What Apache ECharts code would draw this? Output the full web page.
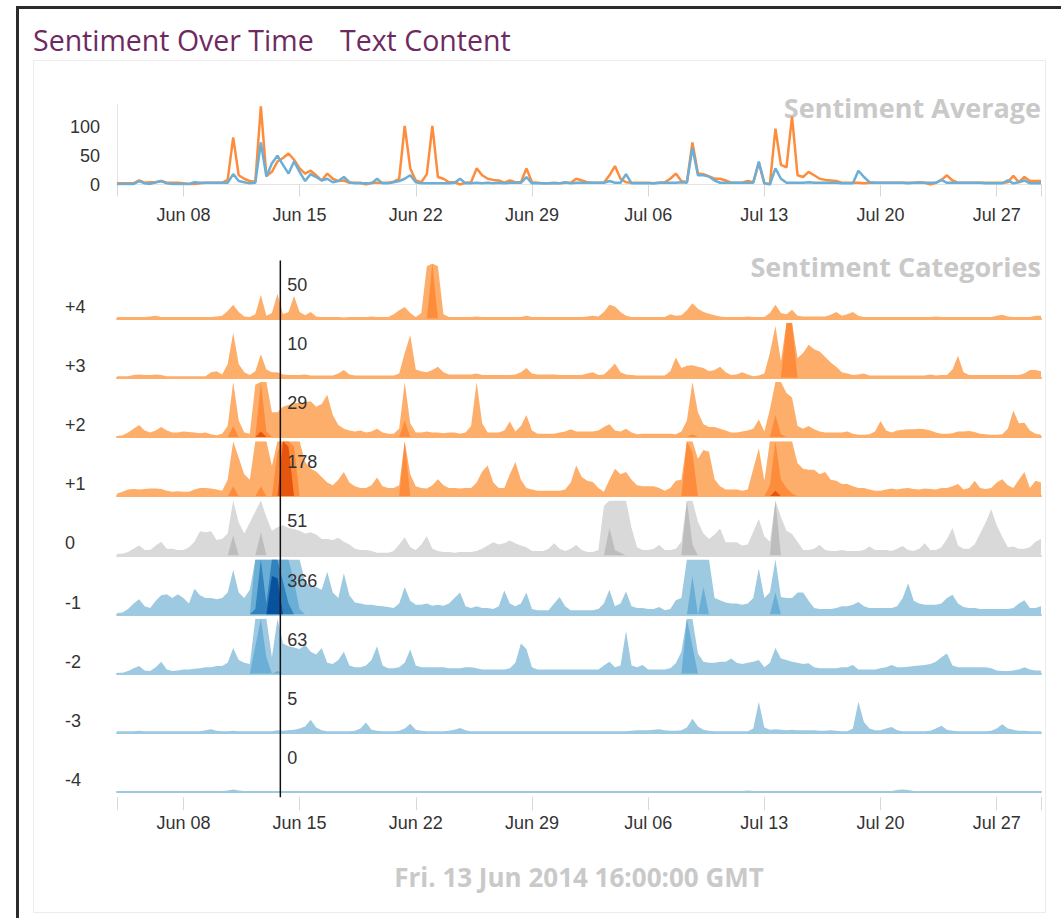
<!DOCTYPE html>
<html lang="en">
<head>
<meta charset="utf-8">
<title>Sentiment Over Time</title>
<script src="https://cdn.jsdelivr.net/npm/echarts@6.0.0/dist/echarts.min.js"></script>
<style>
    html, body { margin: 0; padding: 0; background: #fff; }
    #frame { position: absolute; left: 16px; top: 6px; width: 1045px; height: 912px;
             border-left: 3px solid #2b2b2b; border-top: 3px solid #2b2b2b; box-sizing: border-box; }
    #panel { position: absolute; left: 33px; top: 60px; width: 1013px; height: 853px;
             border: 1px solid #ececec; box-sizing: border-box; }
    #chart { position: absolute; left: 0; top: 0; width: 1061px; height: 918px; }
</style>
</head>
<body>
<div id="frame"></div>
<div id="panel"></div>
<div id="chart"></div>
<script type="text/javascript">
    // samples every 8 hours, starting Jun 04 00:00 (day 3 counted from Jun 01)
    var startDay = 3;
    var stepDays = 1 / 3;

    var weekDays   = [7, 14, 21, 28, 35, 42, 49, 56];
    var weekLabels = ['Jun 08', 'Jun 15', 'Jun 22', 'Jun 29', 'Jul 06', 'Jul 13', 'Jul 20', 'Jul 27'];

    var rowLabels = ['+4', '+3', '+2', '+1', '0', '-1', '-2', '-3', '-4'];
    var cursorDay = 12.84;
    var cursorValues = [50, 10, 29, 178, 51, 366, 63, 5, 0];
    var cursorText = 'Fri. 13 Jun 2014 16:00:00 GMT';

    // Sentiment Average (top chart)
    var avgPositive = [
        2,2,2,2,7,3,4,4,6,3,3,3,
        2,1,1,2,3,3,3,3,8,82,16,10,
        6,5,136,15,22,40,46,54,43,28,19,24,
        16,7,19,10,6,7,3,3,3,0,3,3,
        3,3,5,10,102,28,7,4,18,102,13,10,
        4,4,0,3,4,28,16,10,8,7,3,7,
        4,4,28,4,3,2,2,3,2,3,3,10,
        7,4,3,3,3,16,32,10,4,3,3,3,
        3,2,3,4,10,19,6,4,73,19,18,14,
        10,10,7,3,3,3,6,4,37,2,1,97,
        34,30,118,16,13,22,16,10,8,7,6,3,
        3,3,3,2,3,3,3,3,3,3,3,3,
        3,4,3,0,3,8,16,7,3,3,3,3,
        3,3,3,3,3,4,15,4,13,6,6,6
    ];
    var avgNegative = [
        1,1,1,1,6,2,1,4,6,2,1,1,
        1,1,4,3,3,3,3,3,3,18,6,4,
        2,3,73,14,37,50,34,19,40,22,6,18,
        13,7,10,4,6,13,4,2,2,2,2,10,
        2,2,4,6,10,16,4,2,2,2,2,2,
        2,3,10,2,2,3,2,3,2,3,2,3,
        3,3,13,2,2,2,2,2,2,4,2,3,
        3,3,3,3,3,6,3,3,18,2,2,2,
        2,2,3,3,3,3,4,3,64,16,16,14,
        7,3,3,3,3,3,3,3,40,2,0,28,
        10,3,3,3,3,4,3,3,3,3,3,2,
        2,2,24,13,4,3,3,3,3,3,3,2,
        3,3,3,3,3,8,3,3,3,3,3,3,
        3,2,2,2,2,7,2,4,7,2,2,2
    ];

    // Sentiment Categories (horizon rows, 100 = one band)
    var catPlus4 = [
        3,3,3,3,3,3,4,5,3,3,3,3,
        3,3,3,3,3,3,4,5,14,25,12,4,
        3,8,43,5,10,45,8,12,41,12,6,12,
        4,3,3,3,3,2,3,3,3,3,4,3,
        3,3,8,15,21,10,3,10,95,200,95,8,
        3,3,3,3,3,4,3,3,3,3,3,3,
        3,3,5,3,3,3,3,3,3,3,3,3,
        3,4,5,4,12,25,22,12,5,3,3,3,
        3,3,3,3,8,5,6,15,28,18,12,9,
        6,4,3,3,3,3,4,3,3,3,10,25,
        10,8,16,5,4,4,4,4,4,7,12,5,
        8,12,5,3,3,3,3,3,3,3,3,3,
        3,3,3,3,4,3,3,3,3,3,3,3,
        3,3,3,5,7,4,3,3,3,3,5,5
    ];
    var catPlus3 = [
        3,3,3,5,6,5,5,6,5,3,3,3,
        3,3,3,3,3,10,12,6,25,82,25,10,
        5,12,43,15,10,10,6,5,5,5,6,4,
        4,4,4,4,8,14,6,4,4,4,4,4,
        4,4,4,8,45,78,15,12,10,14,20,10,
        6,6,6,6,6,8,5,5,5,5,5,5,
        6,10,18,8,6,6,6,6,5,5,5,5,
        5,8,10,5,6,15,26,10,6,5,4,4,
        4,4,4,4,12,37,18,22,23,20,18,12,
        14,20,10,5,6,10,6,3,4,8,45,94,
        30,200,200,36,45,60,52,48,38,28,20,10,
        8,5,6,8,4,4,4,4,4,4,4,4,
        4,4,4,6,4,5,5,15,40,10,5,5,
        5,5,5,5,5,5,5,5,8,14,14,12
    ];
    var catPlus2 = [
        2,3,8,15,22,12,8,12,18,12,8,8,
        10,9,8,7,8,5,3,6,20,120,30,8,
        6,95,210,110,45,45,55,58,62,62,63,65,
        55,60,77,40,22,15,12,10,12,8,10,15,
        8,6,6,15,130,25,8,8,10,8,8,7,
        8,8,6,8,20,100,25,8,8,8,12,28,
        10,20,40,12,6,6,6,6,8,10,14,10,
        10,10,10,12,18,23,12,10,15,8,5,6,
        6,6,6,6,6,5,10,30,105,45,23,18,
        18,15,12,8,8,10,12,15,32,10,50,140,
        105,80,72,20,15,20,14,10,8,8,8,8,
        10,6,4,4,5,10,29,12,8,12,13,14,
        14,15,14,12,8,6,6,7,10,10,11,9,
        6,5,4,4,5,15,48,25,26,12,6,4
    ];
    var catPlus1 = [
        5,8,12,13,12,13,14,14,13,10,8,9,
        8,8,12,15,15,14,12,10,30,118,70,40,
        30,100,118,100,55,180,300,290,190,100,62,50,
        45,35,25,20,30,44,25,18,15,15,20,34,
        18,15,15,20,200,40,18,15,14,20,31,20,
        15,15,14,15,15,25,45,56,25,15,15,40,
        62,30,15,12,10,10,10,10,10,12,25,56,
        35,28,26,15,8,30,50,40,44,30,20,18,
        18,18,15,10,15,28,30,200,180,68,84,81,
        31,18,12,12,12,10,12,50,87,28,120,210,
        130,115,105,60,50,48,48,40,44,30,28,22,
        22,18,15,15,12,10,10,12,14,12,14,15,
        13,12,14,13,12,15,15,18,22,12,15,28,
        15,13,15,25,31,20,15,30,44,15,28,25
    ];
    var catZero = [
        3,3,6,12,18,10,10,18,25,12,12,10,
        10,15,25,44,42,44,28,30,40,136,60,40,
        60,80,142,70,45,51,55,50,48,45,40,42,
        38,30,30,28,32,25,20,12,10,10,8,5,
        5,5,8,20,33,15,10,20,35,12,8,6,
        6,5,6,6,6,8,12,18,24,20,22,27,
        22,18,15,8,8,8,12,22,12,8,12,19,
        10,6,6,10,90,150,110,105,100,50,15,10,
        10,12,19,10,10,12,25,200,120,61,40,30,
        38,49,24,24,24,18,20,43,66,35,25,200,
        70,45,39,25,10,10,12,19,10,8,8,10,
        8,8,8,10,16,10,10,10,8,12,17,10,
        8,12,22,10,10,15,30,50,18,12,12,20,
        40,60,84,55,34,15,16,12,12,15,25,30
    ];
    var catMinus1 = [
        3,4,10,20,28,15,12,25,35,37,30,37,
        30,20,47,35,30,30,28,30,40,81,40,30,
        45,210,300,220,370,366,260,220,160,110,60,50,
        50,45,78,40,30,75,35,22,20,18,18,16,
        15,14,12,20,50,25,18,18,20,16,18,16,
        20,30,40,15,12,15,12,12,10,15,44,20,
        15,20,40,10,8,8,8,20,32,15,8,8,
        8,8,8,10,20,45,15,20,42,15,12,12,
        10,10,14,8,10,26,30,100,170,100,150,100,
        30,26,22,20,20,18,20,30,84,30,40,140,
        32,30,30,40,40,25,12,10,10,10,12,15,
        15,18,23,15,12,12,12,12,12,15,30,57,
        25,20,18,18,18,20,30,36,20,14,12,12,
        10,10,10,10,10,10,12,20,26,12,12,15
    ];
    var catMinus2 = [
        2,2,5,10,14,6,5,12,22,8,5,6,
        8,8,9,10,12,12,14,14,20,47,25,20,
        18,150,200,130,30,105,55,50,48,45,53,40,
        35,47,20,18,25,40,15,12,12,15,25,50,
        15,10,10,12,20,44,15,12,12,12,12,12,
        10,10,10,12,12,10,8,8,8,8,8,10,
        20,55,45,12,8,8,8,8,8,8,8,8,
        8,8,8,8,15,22,12,15,78,15,12,16,
        8,8,8,8,10,19,40,200,150,37,22,20,
        20,22,22,28,20,18,20,22,25,12,20,47,
        28,25,22,20,18,19,12,10,10,10,10,12,
        12,16,8,8,8,8,10,12,16,12,12,13,
        14,15,16,18,22,30,37,15,12,12,12,12,
        12,12,10,6,5,5,6,8,12,8,6,6
    ];
    var catMinus3 = [
        3,3,3,3,4,3,3,3,3,3,3,3,
        3,3,3,3,5,7,4,3,3,4,3,3,
        3,3,3,3,3,5,4,5,6,8,12,24,
        10,5,3,3,3,3,3,4,8,19,6,4,
        3,3,3,4,8,17,6,4,3,3,3,3,
        4,6,9,5,3,3,3,3,3,3,3,3,
        3,3,3,3,3,3,3,3,3,3,3,3,
        3,3,3,3,3,3,3,3,3,4,5,5,
        5,6,7,5,4,4,5,10,26,12,6,4,
        3,3,3,3,3,3,3,8,57,10,6,7,
        6,5,6,5,5,5,5,4,4,5,4,3,
        3,8,57,20,8,5,5,8,11,5,3,3,
        3,3,3,4,8,13,6,4,3,3,3,3,
        3,3,4,8,16,8,6,4,4,3,3,3
    ];
    var catMinus4 = [
        2,2,2,2,2,2,2,2,2,2,2,2,
        2,2,2,2,2,2,2,2,3,5,3,2,
        2,2,2,2,2,2,2,2,2,2,2,2,
        2,2,2,2,2,2,2,2,2,2,2,2,
        2,2,2,2,2,2,2,2,2,2,2,2,
        2,2,2,2,2,2,2,2,2,2,2,2,
        2,2,2,2,2,2,2,2,2,2,2,2,
        2,2,2,2,2,2,2,2,2,2,2,2,
        2,2,2,2,2,2,2,2,2,2,2,2,
        2,2,2,2,2,2,3,2,2,2,2,2,
        2,2,2,2,2,2,2,2,2,2,2,2,
        2,2,2,2,2,2,2,2,2,4,5,4,
        2,2,2,2,2,2,2,2,2,2,2,2,
        2,2,2,2,2,2,2,2,2,2,2,2
    ];

    var rows = [catPlus4, catPlus3, catPlus2, catPlus1, catZero, catMinus1, catMinus2, catMinus3, catMinus4];

    var orangeBands = ['#fdae6b', '#fd8d3c', '#e6550d', '#a63603'];
    var greyBands   = ['#d9d9d9', '#bdbdbd', '#969696', '#737373'];
    var blueBands   = ['#9ecae1', '#6baed6', '#3182bd', '#08519c'];
    var rowColors = [orangeBands, orangeBands, orangeBands, orangeBands, greyBands,
                     blueBands, blueBands, blueBands, blueBands];

    var bandHeight = 100;
    var days = avgPositive.map(function (v, j) { return startDay + j * stepDays; });
    var dayMax = days[days.length - 1];

    var plotLeft = 117, plotWidth = 924;
    var firstBase = 318.6, rowGap = 59.2, rowHeight = 55;
    var axisFont = 'Liberation Sans';

    function weekLabel(v) {
        var k = weekDays.indexOf(v);
        return k < 0 ? '' : weekLabels[k];
    }
    function pairs(values) {
        return values.map(function (v, j) { return [days[j], v]; });
    }

    var chart = echarts.init(document.getElementById('chart'), null, { renderer: 'svg' });

    var grids = [{ left: plotLeft, top: 104, width: plotWidth, height: 80.5, containLabel: false, outerBoundsMode: 'none' }];
    var xAxes = [{
        gridIndex: 0, type: 'value', position: 'bottom', min: startDay, max: dayMax,
        axisLine: { show: true, lineStyle: { color: '#e4e4e4', width: 1 } },
        axisTick: { show: true, length: 12, lineStyle: { color: '#d8d8d8' },
                    customValues: [startDay].concat(weekDays, [dayMax]) },
        axisLabel: { customValues: weekDays, formatter: weekLabel, fontSize: 18,
                     fontFamily: axisFont, color: '#333', margin: 21 },
        splitLine: { show: false }
    }];
    var yAxes = [{
        gridIndex: 0, type: 'value', min: 0, max: 140,
        axisLine: { show: true, lineStyle: { color: '#e4e4e4' } },
        axisTick: { show: false },
        axisLabel: { customValues: [0, 50, 100], fontSize: 18, fontFamily: axisFont, color: '#333', margin: 17 },
        splitLine: { show: false }
    }];
    var series = [
        { type: 'line', xAxisIndex: 0, yAxisIndex: 0, symbol: 'none', silent: true,
          lineStyle: { color: '#fd8d3c', width: 2.5 }, data: pairs(avgPositive), z: 3 },
        { type: 'line', xAxisIndex: 0, yAxisIndex: 0, symbol: 'none', silent: true,
          lineStyle: { color: '#6baed6', width: 2.5 }, data: pairs(avgNegative), z: 4 }
    ];

    rows.forEach(function (vals, r) {
        var base = firstBase + r * rowGap;
        var g = r + 1;
        grids.push({ left: plotLeft, top: base - rowHeight, width: plotWidth, height: rowHeight,
                     containLabel: false, outerBoundsMode: 'none' });
        xAxes.push({
            gridIndex: g, type: 'value', position: 'bottom', min: startDay, max: dayMax,
            axisLine: { show: true, lineStyle: { color: rowColors[r][0], width: 2 } },
            axisTick: { show: false }, axisLabel: { show: false }, splitLine: { show: false }
        });
        yAxes.push({ gridIndex: g, type: 'value', min: 0, max: bandHeight, show: false });
        rowColors[r].forEach(function (c, b) {
            series.push({
                type: 'line', xAxisIndex: g, yAxisIndex: g, symbol: 'none', silent: true,
                lineStyle: { width: 0, opacity: 0 },
                areaStyle: { color: c, opacity: 1 },
                z: 2 + b,
                data: vals.map(function (v, j) {
                    return [days[j], Math.max(0, Math.min(bandHeight, v - b * bandHeight))];
                })
            });
        });
    });

    // labelled time axis under the last row
    xAxes.push({
        gridIndex: rows.length, type: 'value', position: 'bottom', min: startDay, max: dayMax, offset: 5,
        axisLine: { show: false },
        axisTick: { show: true, length: 13, lineStyle: { color: '#d8d8d8' },
                    customValues: [startDay].concat(weekDays, [dayMax]) },
        axisLabel: { customValues: weekDays, formatter: weekLabel, fontSize: 18,
                     fontFamily: axisFont, color: '#333', margin: 17 },
        splitLine: { show: false }
    });

    chart.setOption({
        backgroundColor: 'transparent',
        animation: false,
        grid: grids,
        xAxis: xAxes,
        yAxis: yAxes,
        series: series
    });

    /*
     * texts and cursor
     */
    var grey = '#c9c9c9';
    var graphics = [
        { type: 'text', x: 33, y: 40, style: { text: 'Sentiment Over Time', fill: '#6e2a60',
          font: '28.5px "Open Sans"', textVerticalAlign: 'middle' } },
        { type: 'text', x: 340, y: 40, style: { text: 'Text Content', fill: '#6e2a60',
          font: '28.5px "Open Sans"', textVerticalAlign: 'middle' } },
        { type: 'text', x: 1041, y: 107, style: { text: 'Sentiment Average', fill: grey,
          font: 'bold 27px "Open Sans"', textAlign: 'right', textVerticalAlign: 'middle' } },
        { type: 'text', x: 1041, y: 266, style: { text: 'Sentiment Categories', fill: grey,
          font: 'bold 27px "Open Sans"', textAlign: 'right', textVerticalAlign: 'middle' } },
        { type: 'text', x: 579, y: 877, style: { text: cursorText, fill: grey,
          font: 'bold 26px "Open Sans"', textAlign: 'center', textVerticalAlign: 'middle' } }
    ];

    var cursorX = chart.convertToPixel({ xAxisIndex: 1 }, cursorDay);
    var lastBase = firstBase + (rows.length - 1) * rowGap;
    graphics.push({ type: 'line', z: 100,
        shape: { x1: cursorX, y1: firstBase - rowHeight - 3, x2: cursorX, y2: lastBase + 5 },
        style: { stroke: '#111', lineWidth: 1.5 } });

    rowLabels.forEach(function (label, r) {
        var base = firstBase + r * rowGap;
        graphics.push({ type: 'text', x: 65, y: base - 12, style: { text: label, fill: '#333',
            font: '18px "Liberation Sans"', textVerticalAlign: 'middle' } });
        graphics.push({ type: 'text', z: 100, x: cursorX + 7, y: base - 34, style: {
            text: String(cursorValues[r]), fill: '#333',
            font: '18px "Liberation Sans"', textVerticalAlign: 'middle' } });
    });

    chart.setOption({ graphic: graphics });
</script>
</body>
</html>
